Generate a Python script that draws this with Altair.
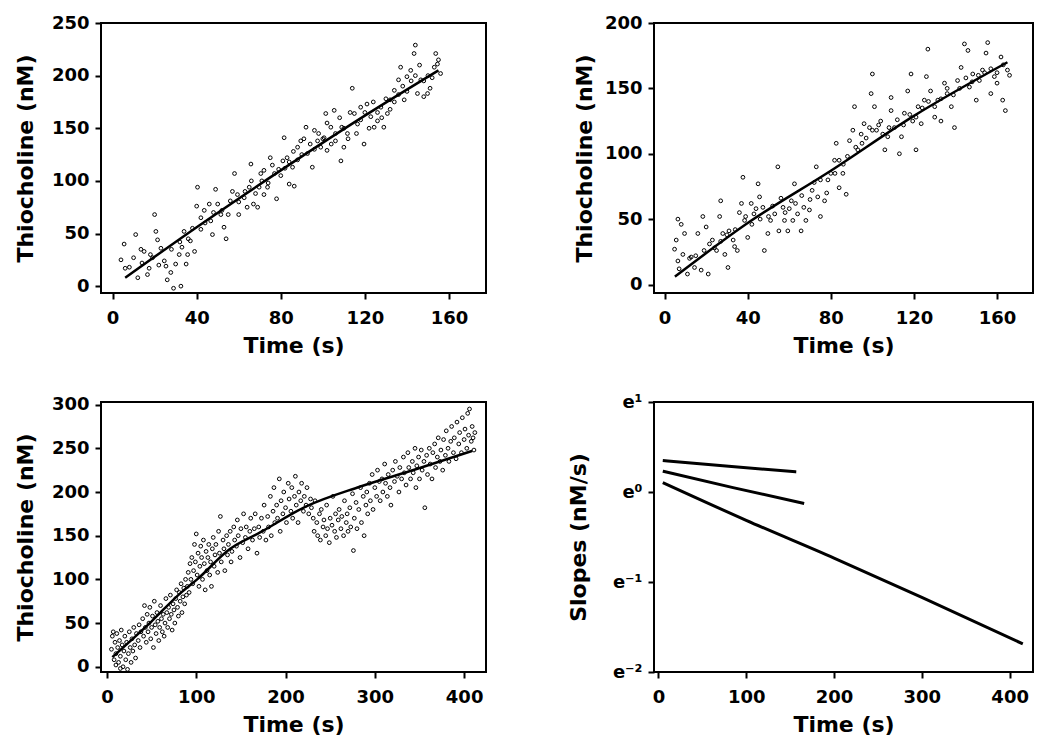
import altair as alt
import pandas as pd

# ---------------- Panel A (top-left) ----------------
time_a = [5.5, 4, 6, 11, 10, 13.5, 15, 16.6, 12, 20, 20.6, 21.4, 19, 17.4, 23, 24.6, 25.4, 26, 27.7, 29,
          32.5, 30, 31.7, 34, 33, 35.7, 37, 39, 35, 40.4, 40, 42, 42, 43.6, 46, 46.7, 47.5, 49, 50, 51.5,
          53, 54, 56, 58, 59.4, 60, 62.6, 65, 65.8, 67, 69, 69.7, 70.5, 71, 72, 73.7, 75, 77, 78, 79,
          81, 81.6, 83, 84, 85.6, 86.4, 88, 89.5, 92, 92.7, 95, 96, 97.5, 99, 100.6, 101.4, 102, 103.8, 105.4, 106,
          108.6, 109, 110, 111.7, 114, 115, 116.5, 118, 119.6, 121, 122.8, 124.4, 126, 127.6, 129, 130.7, 132, 134, 136, 137,
          138.7, 140, 141.8, 143.4, 144, 145, 146.6, 148, 149.8, 151, 153, 153.7, 154.5, 156,
          8, 14, 18, 22, 28, 32, 36, 38, 44, 48, 52, 55, 57, 60, 63, 64, 66, 68, 72, 74,
          76, 80, 82, 84, 86, 88, 90, 91, 94, 96, 98, 100, 102, 104, 106, 108, 110, 112, 113, 116,
          118, 120, 122, 124, 126, 128, 130, 132, 134, 136, 138, 140, 142, 144, 146, 148, 150, 152, 155]
thio_a = [40, 25, 17, 49, 27, 35, 33, 11, 8, 68, 52, 44, 27, 17, 36, 24, 19, 6, 13, -2,
          0, 21, 30, 52, 37, 30, 43, 33, 21, 94, 76, 65, 54, 72, 78, 62, 49, 92, 78, 68,
          56, 45, 81, 107, 87, 68, 84, 94, 116, 78, 75, 94, 107, 100, 87, 94, 122, 107, 83, 111,
          119, 141, 122, 97, 113, 95, 132, 138, 151, 126, 113, 148, 138, 132, 141, 164, 129, 151, 167, 138,
          119, 151, 132, 145, 188, 164, 154, 170, 135, 173, 161, 151, 157, 170, 151, 164, 177, 186, 196, 208,
          177, 199, 205, 221, 229, 183, 196, 180, 183, 188, 208, 221, 211, 202,
          18, 22, 30, 20, 35, 42, 45, 55, 60, 70, 72, 68, 90, 80, 90, 75, 100, 88, 110, 98,
          115, 105, 112, 118, 128, 120, 125, 140, 135, 130, 145, 140, 155, 135, 145, 160, 150, 140, 165, 145,
          158, 165, 150, 175, 165, 160, 178, 168, 175, 182, 190, 185, 195, 200, 210, 195, 200, 198, 215]
fit_time_a = [6, 40, 80, 120, 155]
fit_thio_a = [8, 56, 110, 162, 205]

# ---------------- Panel B (top-right) ----------------
time_b = [6.4, 8, 5.6, 4.8, 6.4, 9.6, 8.8, 11, 12.8, 14.4, 16, 17.6, 18.4, 20, 21, 21.6, 23, 25, 26.5, 27,
          28, 29, 30.5, 31, 33, 33.7, 35, 37, 37.7, 38.5, 40, 41.7, 43, 45, 45.7, 47.3, 48, 49.7, 51, 53,
          54.5, 55, 57, 57.7, 59.3, 61, 61.7, 62.5, 64, 65.7, 67, 68, 69.7, 71, 73, 73.7, 75, 77, 78.6, 80,
          81.8, 82.6, 84, 85.8, 87.4, 89, 90.6, 91.4, 93, 94.6, 96, 98.6, 99.4, 101, 100, 102, 104, 106, 107.4, 109,
          109, 110.6, 113, 114, 115.4, 117, 118.6, 119.4, 121, 122, 123.5, 125, 126, 126.7, 128, 130, 131.5, 133, 134.7, 136,
          138, 139.5, 141, 142.7, 144.3, 146, 146.7, 148.3, 150, 151.5, 153, 154.7, 155.5, 157, 158.7, 160, 161.9, 162.7, 164, 165,
          7, 12, 15, 19, 24, 27, 30, 34, 36, 39, 42, 44, 46, 50, 52, 56, 58, 60, 63, 66,
          70, 72, 75, 78, 82, 84, 86, 88, 92, 95, 97, 100, 103, 105, 108, 112, 115, 118, 121, 124,
          127, 130, 133, 136, 139, 142, 145, 148, 151, 154, 157, 160, 163, 166]
thio_b = [50, 46, 34, 27, 18, 39, 23, 8, 21, 13, 39, 11, 52, 44, 8, 31, 34, 26, 52, 64,
          39, 23, 13, 41, 34, 29, 26, 62, 82, 49, 36, 62, 54, 77, 67, 59, 26, 39, 49, 54,
          90, 41, 59, 49, 41, 64, 49, 77, 54, 41, 59, 49, 57, 72, 90, 67, 52, 64, 80, 85,
          95, 108, 74, 85, 69, 110, 118, 136, 103, 115, 123, 120, 146, 136, 161, 118, 125, 103, 113, 143,
          133, 120, 100, 113, 131, 148, 161, 125, 103, 136, 123, 141, 159, 180, 148, 128, 141, 125, 154, 146,
          136, 120, 156, 166, 184, 179, 151, 161, 141, 156, 164, 177, 185, 146, 159, 154, 174, 141, 133, 164,
          12, 20, 22, 26, 28, 33, 38, 42, 55, 52, 46, 58, 50, 52, 60, 66, 55, 58, 62, 68,
          65, 78, 80, 70, 85, 95, 92, 98, 105, 108, 112, 118, 122, 115, 120, 126, 122, 130, 128, 135,
          140, 136, 142, 150, 145, 150, 158, 155, 160, 162, 165, 162, 168, 160]
fit_time_b = [5, 40, 80, 120, 165]
fit_thio_b = [6, 47, 87, 129, 170]

# ---------------- Panel C (bottom-left) ----------------
time_c = [5, 6, 7, 8, 9, 10, 10, 11, 12, 13, 14, 15, 15, 16, 17, 18, 19, 20, 21, 22,
          23, 24, 25, 26, 27, 28, 29, 30, 31, 32, 33,
          35, 36, 37, 38, 40, 41, 42, 43, 44, 45, 46, 47, 48, 49, 50, 51, 52, 53, 54, 55,
          56, 57, 58, 59, 60, 61, 62, 63, 64, 65, 66, 67, 68, 69, 70, 71, 72, 73, 74, 75,
          76, 77, 78, 79, 80, 81, 82, 83, 84, 85, 86, 87, 88, 89, 90,
          91, 92, 93, 94, 95, 96, 97, 98, 99, 100, 101, 102, 103, 104, 105, 106, 107, 108, 109, 110,
          111, 112, 113, 114, 115, 116, 117, 118, 119, 120, 121, 122, 124, 125, 126, 127, 128, 130, 131, 132,
          134, 135, 136, 138, 139, 140, 142, 143, 145, 146, 147, 149, 150, 152, 153, 155, 156, 158, 160, 161,
          163, 165, 166, 168, 170,
          171, 173, 175, 176, 178, 180, 181, 183, 184, 186, 187, 188, 190, 191, 193, 194, 195, 197, 198, 200,
          201, 203, 204, 206, 207, 208, 210, 211, 212, 214, 215, 217, 218, 220, 221, 223, 224, 226, 228, 229,
          231, 232, 233, 235, 236, 238, 239, 240, 242, 243, 245, 246, 247, 249, 250, 252, 253, 255, 256, 257,
          259, 260, 262, 263, 265, 266, 268, 269, 270, 272, 273, 275, 276, 277, 279, 280, 282, 284, 285, 287,
          288, 290,
          291, 292, 294, 295, 297, 298, 300, 302, 303, 305, 306, 308, 309, 311, 312, 314, 315, 317, 318, 320,
          322, 323, 325, 327, 328, 330, 332, 333, 335, 337, 338, 340, 342, 343, 345,
          346, 347, 349, 350, 352, 353, 355, 356, 358, 359, 361, 362, 364, 365, 367, 368, 370, 371, 373, 374,
          376, 377, 379, 380, 382, 383, 385, 386, 388, 389, 391, 392, 394, 395, 397, 398, 400, 401, 403, 404,
          405, 406, 408, 409, 410, 411, 412]
thio_c = [20, 35, 40, 8, 28, 2, 15, 38, 22, 5, 30, -2, 12, 42, 25, 0, 18, 35, 8, 28,
          -3, 15, 40, 22, 5, 32, 18, 45, 25, 10, 38,
          30, 48, 22, 40, 55, 35, 70, 45, 28, 60, 40, 50, 68, 32, 45, 58, 22, 75, 48, 38,
          62, 52, 30, 45, 70, 55, 40, 60, 35, 50, 78, 62, 45, 68, 55, 82, 60, 42, 72, 65,
          50, 78, 88, 68, 58, 85, 75, 95, 62, 80, 90, 72, 100, 82, 92,
          108, 85, 118, 100, 125, 95, 110, 140, 120, 152, 105, 130, 92, 115, 138, 125, 100, 145, 118, 88,
          132, 110, 125, 140, 105, 120, 92, 135, 148, 115, 128, 140, 108, 155, 130, 172, 120, 145, 135, 110,
          150, 128, 140, 155, 120, 132, 160, 145, 138, 168, 150, 125, 158, 142, 175, 148, 160, 135, 155, 170,
          145, 158, 175, 130, 160,
          148, 170, 155, 185, 145, 172, 160, 195, 150, 178, 205, 165, 185, 170, 215, 155, 190, 175, 200, 182,
          165, 210, 192, 178, 205, 170, 195, 218, 185, 165, 200, 190, 210, 178, 195, 185, 205, 175, 192, 182,
          170, 155, 190, 165, 150, 175, 145, 180, 160, 168, 150, 185, 158, 142, 170, 162, 195, 155, 175, 148,
          168, 180, 158, 172, 150, 190, 165, 175, 155, 182, 160, 198, 133, 170, 188, 158, 180, 205, 165, 195,
          150, 185,
          200, 175, 210, 190, 220, 180, 205, 195, 225, 212, 190, 215, 200, 232, 210, 195, 220, 205, 185, 225,
          212, 235, 218, 200, 228, 215, 240, 222, 208, 245, 228, 215, 235, 222, 250,
          205, 230, 240, 215, 248, 225, 235, 182, 242, 220, 250, 232, 215, 245, 255, 228, 240, 262, 235, 248,
          225, 260, 242, 270, 250, 235, 258, 275, 245, 262, 238, 280, 255, 268, 245, 285, 260, 272, 250, 290,
          265, 295, 258, 275, 262, 248, 268]
fit_time_c = [6, 50, 82, 101, 138, 172, 222, 283, 346, 409]
fit_thio_c = [11, 52, 84, 100, 135, 154, 183, 206, 226, 247]

# ---------------- Panel D (bottom-right): slopes ----------------
slope_time_1 = [5, 80, 157]
slope_val_1 = [1.42, 1.33, 1.25]
slope_time_2 = [5, 85, 166]
slope_val_2 = [1.26, 1.05, 0.88]
slope_time_3 = [5, 100, 200, 300, 415]
slope_val_3 = [1.11, 0.73, 0.48, 0.31, 0.185]

FONT = "DejaVu Sans"
W_LEFT, W_RIGHT, H = 385, 379, 270


def panel(tp, yp, tf, yf, xdom, ydom, xticks, yticks, ytitle, title_pad, w):
    pts = pd.DataFrame({"t": tp, "y": yp})
    fit = pd.DataFrame({"t": tf, "y": yf})
    xs = alt.Scale(domain=xdom, nice=False, zero=False)
    ys = alt.Scale(domain=ydom, nice=False, zero=False)
    xa = alt.Axis(values=xticks, title="Time (s)")
    ya = alt.Axis(values=yticks, title=ytitle, titlePadding=title_pad)
    p = alt.Chart(pts).mark_point(shape="circle", filled=False, size=14, strokeWidth=1.0,
                                   color="black", opacity=1, clip=True).encode(
        x=alt.X("t:Q", scale=xs, axis=xa),
        y=alt.Y("y:Q", scale=ys, axis=ya),
    )
    l = alt.Chart(fit).mark_line(color="black", strokeWidth=2.5, interpolate="monotone").encode(
        x=alt.X("t:Q", scale=xs, axis=xa),
        y=alt.Y("y:Q", scale=ys, axis=ya),
    )
    return alt.layer(p, l).properties(width=w, height=H)


pa = panel(time_a, thio_a, fit_time_a, fit_thio_a, [-5.5, 177.6], [-6.5, 250],
           [0, 40, 80, 120, 160], [0, 50, 100, 150, 200, 250], "Thiocholine (nM)", 14, W_LEFT)
pb = panel(time_b, thio_b, fit_time_b, fit_thio_b, [-5.1, 177.3], [-6.5, 200],
           [0, 40, 80, 120, 160], [0, 50, 100, 150, 200], "Thiocholine (nM)", 8, W_RIGHT)
pc = panel(time_c, thio_c, fit_time_c, fit_thio_c, [-6.7, 424.5], [-6, 303],
           [0, 100, 200, 300, 400], [0, 50, 100, 150, 200, 250, 300], "Thiocholine (nM)", 14, W_LEFT)

slopes = pd.concat([
    pd.DataFrame({"t": slope_time_1, "s": slope_val_1, "run": "A"}),
    pd.DataFrame({"t": slope_time_2, "s": slope_val_2, "run": "B"}),
    pd.DataFrame({"t": slope_time_3, "s": slope_val_3, "run": "C"}),
])
E = 2.718281828459045
label_expr = ("round(log(datum.value)) == 1 ? 'e¹' : round(log(datum.value)) == 0 ? 'e⁰' : "
              "round(log(datum.value)) == -1 ? 'e⁻¹' : 'e⁻²'")
pd_ = alt.Chart(slopes).mark_line(color="black", strokeWidth=3, interpolate="monotone").encode(
    x=alt.X("t:Q", scale=alt.Scale(domain=[-5, 426.6], nice=False, zero=False),
            axis=alt.Axis(values=[0, 100, 200, 300, 400], title="Time (s)")),
    y=alt.Y("s:Q", scale=alt.Scale(type="log", base=E, domain=[E ** -2, E], nice=False),
            axis=alt.Axis(values=[E ** -2, E ** -1, 1, E], labelExpr=label_expr,
                          title="Slopes (nM/s)", titlePadding=22)),
    detail="run:N",
).properties(width=W_RIGHT, height=H)

chart = alt.concat(pa, pb, pc, pd_, columns=2, spacing={"row": 35, "column": 79}).configure_axis(
    labelFont=FONT, labelFontSize=18, labelFontWeight="bold", labelColor="black",
    titleFont=FONT, titleFontSize=22, titleFontWeight="bold", titleColor="black",
    tickColor="black", tickWidth=2, tickSize=6, labelPadding=6, grid=False, domain=False,
).configure_axisX(titlePadding=8, labelPadding=10).configure_view(
    stroke="black", strokeWidth=2
).properties(background="white")

chart.save("out.html", embed_options={"renderer": "svg", "actions": False})
